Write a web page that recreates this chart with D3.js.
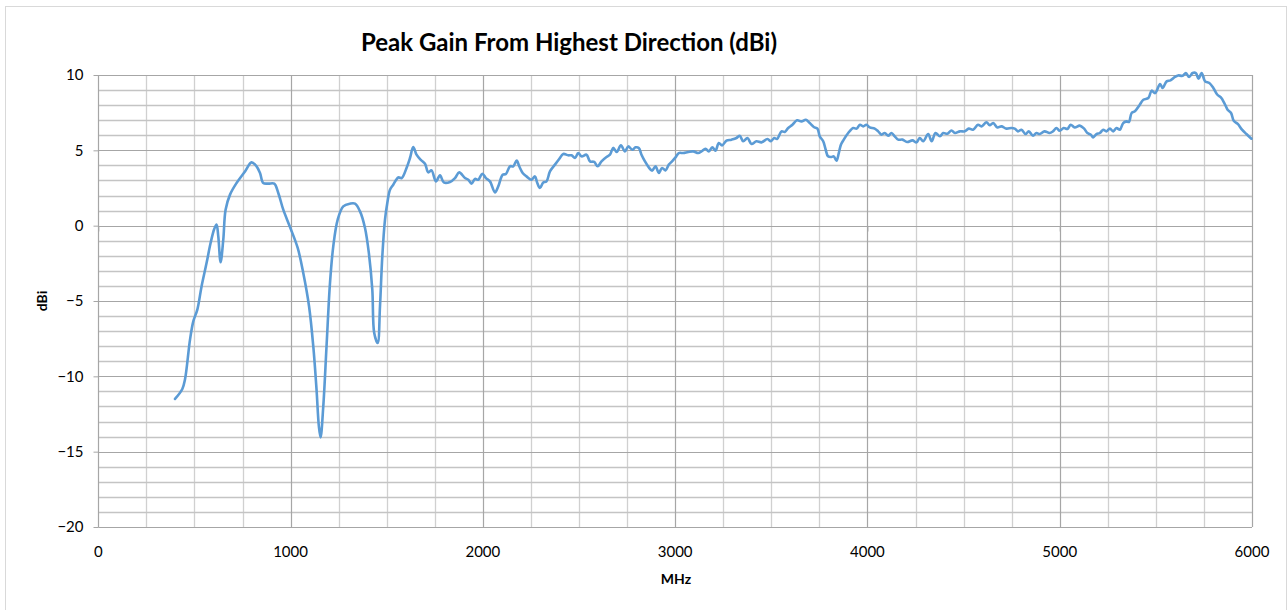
<!DOCTYPE html>
<html>
<head>
    <meta charset="utf-8">
    <title>Peak Gain From Highest Direction (dBi)</title>
    <style>
        body { margin: 0; background: #fff; }
        text { font-family: Lato, "Open Sans", sans-serif; fill: #000; }
    </style>
</head>
<body>

<main></main>

<script src="https://cdn.jsdelivr.net/npm/d3@7/dist/d3.min.js"></script>
<script>
    // 数据 ============================
    var freqMHz = [
        399, 437, 451, 477, 494, 515, 537, 563, 584, 603, 615, 624, 636, 650, 662, 685, 719, 763, 797, 823,
        841, 858, 884, 915, 936, 962, 997, 1037, 1066, 1096, 1118, 1135, 1147, 1156, 1170, 1187, 1205, 1222, 1245, 1274,
        1309, 1335, 1361, 1387, 1407, 1425, 1435, 1453, 1465, 1477, 1491, 1503, 1517, 1534, 1560, 1578, 1603, 1621, 1638, 1655,
        1676, 1699, 1716, 1733, 1756, 1777, 1797, 1829, 1855, 1877, 1907, 1924, 1941, 1959, 1976, 1997, 2016, 2037, 2063, 2080,
        2103, 2120, 2141, 2158, 2176, 2189, 2207, 2227, 2253, 2271, 2283, 2297, 2314, 2331, 2349, 2375, 2397, 2418, 2444, 2461,
        2479, 2496, 2513, 2539, 2557, 2579, 2597, 2617, 2643, 2661, 2678, 2696, 2718, 2739, 2756, 2777, 2794, 2811, 2825, 2843,
        2863, 2880, 2898, 2915, 2932, 2950, 2967, 2984, 3002, 3019, 3042, 3068, 3094, 3120, 3137, 3158, 3175, 3193, 3210, 3227,
        3244, 3267, 3293, 3319, 3336, 3354, 3376, 3397, 3423, 3449, 3480, 3498, 3515, 3530, 3553, 3570, 3588, 3610, 3634, 3657,
        3680, 3700, 3721, 3740, 3752, 3770, 3783, 3795, 3813, 3825, 3839, 3851, 3862, 3877, 3900, 3926, 3944, 3961, 3978, 3995,
        4012, 4038, 4056, 4073, 4090, 4108, 4125, 4142, 4160, 4182, 4206, 4234, 4255, 4272, 4290, 4316, 4334, 4354, 4377, 4394,
        4415, 4437, 4455, 4481, 4506, 4527, 4549, 4575, 4593, 4619, 4636, 4654, 4676, 4697, 4723, 4749, 4766, 4783, 4801, 4822,
        4839, 4861, 4879, 4896, 4921, 4947, 4965, 4983, 5000, 5021, 5040, 5057, 5078, 5104, 5127, 5144, 5162, 5174, 5191, 5209,
        5226, 5243, 5261, 5278, 5295, 5313, 5330, 5348, 5360, 5374, 5391, 5414, 5435, 5461, 5478, 5496, 5522, 5535, 5556, 5576,
        5599, 5616, 5639, 5656, 5673, 5691, 5708, 5722, 5738, 5756, 5778, 5799, 5820, 5838, 5856, 5873, 5891, 5905, 5926, 5948,
        5971, 5997
    ];
    var gainDbi = [
        -11.5, -10.84, -10.2, -7.56, -6.35, -5.57, -4.03, -2.48, -1.15, -0.22, 0.07, -0.71, -2.43, -0.93, 1.06, 2.06, 2.83, 3.6, 4.2, 3.94,
        3.5, 2.83, 2.79, 2.79, 2.17, 1.06, -0.09, -1.48, -3.14, -5.35, -8.0, -10.88, -13.3, -14.05, -12.0, -8.0, -3.8, -1.37, 0.4, 1.28,
        1.46, 1.46, 0.95, -0.15, -1.81, -4.25, -7.12, -7.79, -5.35, -2.04, 0.4, 1.5, 2.39, 2.72, 3.2, 3.16, 3.83, 4.49, 5.22, 4.71,
        4.38, 4.11, 3.54, 3.67, 2.94, 3.34, 2.87, 2.9, 3.16, 3.54, 3.16, 3.05, 2.79, 3.1, 3.05, 3.45, 3.16, 2.94, 2.21, 2.61,
        3.38, 3.43, 3.94, 3.94, 4.33, 3.94, 3.5, 3.27, 3.05, 3.27, 2.83, 2.5, 2.87, 2.94, 3.6, 4.05, 4.42, 4.76, 4.67, 4.67,
        4.49, 4.82, 4.6, 4.71, 4.27, 4.23, 3.94, 4.27, 4.56, 4.71, 5.16, 4.89, 5.33, 4.93, 5.26, 5.04, 5.2, 5.16, 4.71, 4.27,
        3.87, 3.65, 3.94, 3.5, 3.83, 3.67, 4.05, 4.27, 4.53, 4.82, 4.82, 4.89, 4.93, 4.82, 4.93, 5.11, 4.93, 5.2, 4.98, 5.49,
        5.33, 5.64, 5.71, 5.82, 5.97, 5.6, 5.82, 5.42, 5.6, 5.53, 5.75, 5.6, 5.82, 5.75, 6.26, 6.22, 6.48, 6.7, 6.99, 6.92,
        7.03, 6.81, 6.55, 6.44, 5.93, 5.6, 5.04, 4.6, 4.56, 4.6, 4.31, 4.82, 5.37, 5.71, 6.15, 6.48, 6.44, 6.7, 6.59, 6.7,
        6.52, 6.44, 6.26, 6.04, 6.15, 5.97, 6.15, 5.93, 5.71, 5.71, 5.55, 5.66, 5.53, 5.82, 5.6, 6.08, 5.6, 6.15, 5.93, 6.15,
        6.1, 6.32, 6.15, 6.26, 6.26, 6.44, 6.37, 6.7, 6.59, 6.86, 6.66, 6.81, 6.52, 6.59, 6.44, 6.48, 6.44, 6.26, 6.37, 6.08,
        6.26, 5.97, 6.15, 6.08, 6.26, 6.15, 6.26, 6.48, 6.3, 6.48, 6.42, 6.7, 6.52, 6.64, 6.44, 6.15, 6.04, 5.86, 6.08, 6.15,
        6.37, 6.26, 6.44, 6.26, 6.48, 6.37, 6.81, 6.92, 6.88, 7.48, 7.59, 7.98, 8.36, 8.47, 8.96, 8.8, 9.4, 9.14, 9.58, 9.64,
        9.87, 9.97, 9.95, 10.13, 9.87, 10.13, 10.13, 9.75, 10.13, 9.58, 9.47, 9.14, 8.69, 8.51, 8.14, 7.7, 7.48, 6.97, 6.75, 6.37,
        6.08, 5.77
    ];
    var xTicks = [0, 1000, 2000, 3000, 4000, 5000, 6000];
    var yTicks = [-20, -15, -10, -5, 0, 5, 10];

    // 尺寸 ============================
    var width = 1288;
    var height = 610;
    var plot = {left: 98.3, right: 1252, top: 75, bottom: 527};

    var svg = d3.select("main")
        .append("svg")
        .attr("width", width)
        .attr("height", height);

    // 外框
    svg.append("rect")
        .attr("x", 5.5).attr("y", 6.5)
        .attr("width", 1281).attr("height", 610)
        .attr("fill", "none")
        .attr("stroke", "#d9d9d9");

    var x = d3.scaleLinear().domain([0, 6000]).range([plot.left, plot.right]);
    var y = d3.scaleLinear().domain([-20, 10]).range([plot.bottom, plot.top]);

    // 网格 ============================
    var grid = svg.append("g");
    // 竖线 minor 250
    grid.selectAll(".vminor")
        .data(d3.range(250, 6000, 250).filter(function (d) { return d % 1000 !== 0; }))
        .enter().append("line")
        .attr("x1", function (d) { return Math.round(x(d)) + 0.5; })
        .attr("x2", function (d) { return Math.round(x(d)) + 0.5; })
        .attr("y1", plot.top).attr("y2", plot.bottom)
        .attr("stroke", "#d0d0d0").attr("stroke-width", 1.3);
    // 横线 minor 1
    grid.selectAll(".hminor")
        .data(d3.range(-19, 10, 1).filter(function (d) { return d % 5 !== 0; }))
        .enter().append("line")
        .attr("x1", plot.left).attr("x2", plot.right)
        .attr("y1", function (d) { return Math.round(y(d)) + 0.5; })
        .attr("y2", function (d) { return Math.round(y(d)) + 0.5; })
        .attr("stroke", "#c4c4c4").attr("stroke-width", 1.3);
    // major
    grid.selectAll(".vmajor")
        .data(xTicks)
        .enter().append("line")
        .attr("x1", function (d) { return Math.round(x(d)) + 0.5; })
        .attr("x2", function (d) { return Math.round(x(d)) + 0.5; })
        .attr("y1", plot.top).attr("y2", plot.bottom)
        .attr("stroke", "#a6a6a6").attr("stroke-width", 1.2);
    grid.selectAll(".hmajor")
        .data(yTicks)
        .enter().append("line")
        .attr("x1", plot.left).attr("x2", plot.right)
        .attr("y1", function (d) { return Math.round(y(d)) + 0.5; })
        .attr("y2", function (d) { return Math.round(y(d)) + 0.5; })
        .attr("stroke", "#a6a6a6").attr("stroke-width", 1.2);

    // 坐标轴 ==========================
    var yAxis = d3.axisLeft(y).tickValues(yTicks).tickSize(5).tickPadding(10);
    var gy = svg.append("g")
        .attr("transform", "translate(" + (Math.round(plot.left) + 0.5) + ",0)")
        .call(yAxis);
    // x轴线在0处, 标签在底部
    var xAxis = d3.axisBottom(x).tickValues(xTicks).tickSize(5).tickFormat("");
    var gx = svg.append("g")
        .attr("transform", "translate(0," + (Math.round(y(0)) + 0.5) + ")")
        .call(xAxis);
    [gx, gy].forEach(function (g) {
        g.selectAll("path, line").attr("stroke", "#a6a6a6");
        g.select(".domain").remove();
    });
    gy.selectAll("text").attr("font-size", "15px").attr("font-family", "Lato, sans-serif");

    svg.append("g").selectAll("text")
        .data(xTicks)
        .enter().append("text")
        .attr("x", function (d) { return x(d); })
        .attr("y", 557)
        .attr("text-anchor", "middle")
        .attr("font-size", "15px")
        .text(function (d) { return d; });

    // 曲线 ============================
    var points = freqMHz.map(function (f, i) { return [f, gainDbi[i]]; });
    var line = d3.line()
        .x(function (d) { return x(d[0]); })
        .y(function (d) { return y(d[1]); })
        .curve(d3.curveCatmullRom);
    svg.append("path")
        .datum(points)
        .attr("d", line)
        .attr("fill", "none")
        .attr("stroke", "#5b9bd5")
        .attr("stroke-width", 2.6)
        .attr("stroke-linejoin", "round")
        .attr("stroke-linecap", "round");

    // 标题 ============================
    svg.append("text")
        .attr("x", 569).attr("y", 51)
        .attr("text-anchor", "middle")
        .attr("font-size", "24px")
        .attr("font-weight", "bold")
        .text("Peak Gain From Highest Direction (dBi)");
    svg.append("text")
        .attr("x", 676).attr("y", 584)
        .attr("text-anchor", "middle")
        .attr("font-size", "14px")
        .attr("font-weight", "bold")
        .text("MHz");
    svg.append("text")
        .attr("transform", "translate(47,301) rotate(-90)")
        .attr("text-anchor", "middle")
        .attr("font-size", "14px")
        .attr("font-weight", "bold")
        .text("dBi");
</script>
</body>
</html>
